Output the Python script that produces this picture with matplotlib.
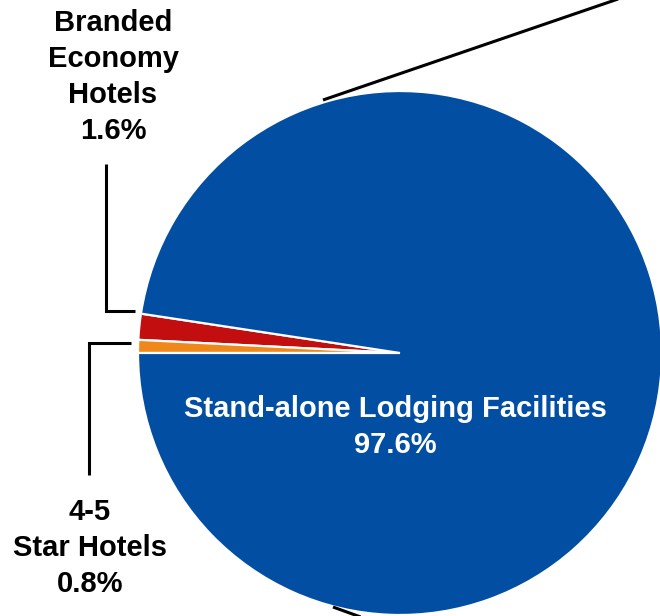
import matplotlib
matplotlib.use('Agg')
import matplotlib.pyplot as plt

# lodging mix, in pie order (counter-clockwise from the small slices)
labels = ['Branded\nEconomy\nHotels', '4-5\nStar Hotels', 'Stand-alone Lodging Facilities']
shares = [1.6, 0.8, 97.6]
colors = ['#C20E0E', '#F0871A', '#024EA2']

W, H = 660, 616
plt.rcParams['font.family'] = ['Liberation Sans', 'DejaVu Sans']

fig = plt.figure(figsize=(W / 100, H / 100), dpi=100)
ax = fig.add_axes([0, 0, 1, 1])

cx, cy, r = 400, H - 353, 262
# small slices sit just above the 9 o'clock position
start = 180 - 3.6 * (shares[0] + shares[1])
ax.pie(shares, colors=colors, startangle=start, counterclock=True,
       center=(cx, cy), radius=r, frame=True,
       wedgeprops=dict(edgecolor='white', linewidth=1.6))
ax.set_xlim(0, W)
ax.set_ylim(0, H)
ax.set_aspect('equal')
ax.set_axis_off()

lbl = dict(fontsize=21, fontweight='bold', ha='center', va='center', linespacing=1.36)

ax.text(113, H - 77, f'{labels[0]}\n{shares[0]}%', color='black', **lbl)
ax.text(90, H - 548, f'{labels[1]}\n{shares[1]}%', color='black', **lbl)
ax.text(395, H - 427, f'{labels[2]}\n{shares[2]}%', color='white', **lbl)

# leader lines
line = dict(color='black', linewidth=2.2, solid_capstyle='butt', solid_joinstyle='miter')
ax.plot([105.5, 105.5, 135], [H - 164, H - 311, H - 311], **line)
ax.plot([131, 88.5, 88.5], [H - 343, H - 343, H - 475], **line)
ax.plot([323, 640], [H - 100, H + 8.5], **line)
ax.plot([333, 380], [H - 607, H - 624], **line)

fig.savefig('out.png', dpi=100)
